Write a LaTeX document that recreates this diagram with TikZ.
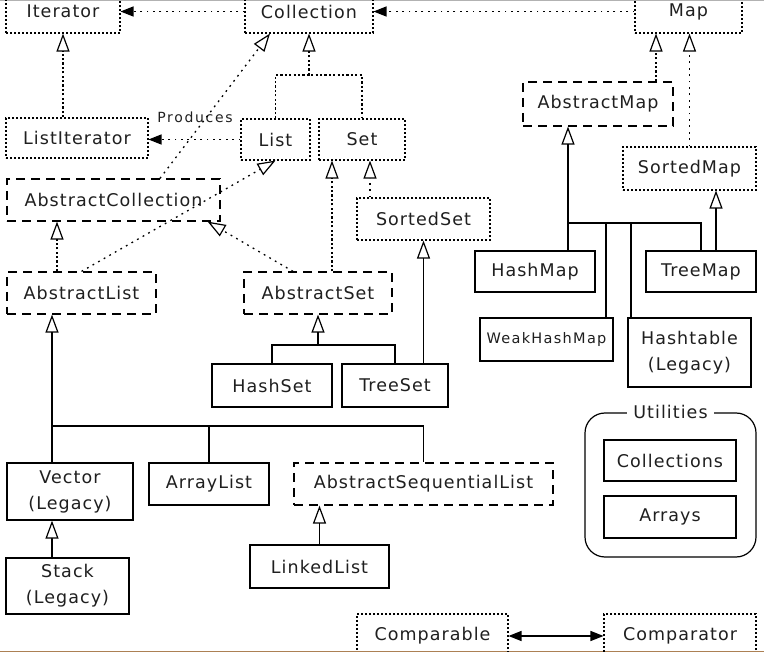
\documentclass[tikz,border=0pt]{standalone}
\usepackage{fontspec}
\setmainfont{DejaVu Sans}[LetterSpace=6]
\usetikzlibrary{arrows.meta}
\tikzset{
  lbl/.style={font=\fontsize{17.5}{26}\selectfont, text=black!88, align=center, inner sep=0pt},
  iface/.style={lbl, draw, line width=1.1pt, dash pattern=on 2pt off 2pt},
  abstr/.style={lbl, draw, line width=1.2pt, dash pattern=on 9pt off 6pt},
  conc/.style={lbl, draw, line width=1.3pt},
  dotc/.style={line width=1.3pt, dash pattern=on 1.8pt off 4.6pt},
  dashc/.style={line width=1.1pt, dash pattern=on 2.2pt off 2.2pt},
  solc/.style={line width=1.4pt},
  inh/.style={-{Triangle[length=18pt,width=13pt,fill=white,line width=1.2pt]}},
  uses/.style={-{Triangle[length=13pt,width=10pt]}},
  both/.style={{Triangle[length=13pt,width=10pt]}-{Triangle[length=13pt,width=10pt]}}
}
\begin{document}
\begin{tikzpicture}[x=1pt,y=-1pt]
\useasboundingbox (0,0) rectangle (764,652);
\clip (0,0) rectangle (764,652);
\fill[white] (0,0) rectangle (764,652);
\fill[gray!60] (0,0) rectangle (764,1.5);
\fill[brown!70!gray] (0,650.5) rectangle (764,652);

% interfaces
\node[iface, minimum width=114pt, minimum height=43pt] (Iterator) at (63,11.5) {Iterator};
\node[iface, minimum width=128pt, minimum height=43pt] (Collection) at (309,11.5) {Collection};
\node[iface, minimum width=107pt, minimum height=43pt] (Map) at (688.5,11.5) {Map};
\node[iface, minimum width=142pt, minimum height=40pt] (ListIterator) at (77,138) {ListIterator};
\node[iface, minimum width=69pt, minimum height=41pt] (List) at (275.5,139.5) {List};
\node[iface, minimum width=86pt, minimum height=41pt] (Set) at (362,139.5) {Set};
\node[iface, minimum width=133pt, minimum height=42pt] (SortedSet) at (423.5,219) {SortedSet};
\node[iface, minimum width=133pt, minimum height=43pt] (SortedMap) at (689.5,168.5) {SortedMap};
\node[iface, minimum width=151pt, minimum height=44pt] (Comparable) at (432.5,636) {Comparable};
\node[iface, minimum width=152pt, minimum height=44pt] (Comparator) at (680,636) {Comparator};

% abstract classes
\node[abstr, minimum width=213pt, minimum height=42pt] (AbstractCollection) at (113.5,200) {AbstractCollection};
\node[abstr, minimum width=149pt, minimum height=42pt] (AbstractList) at (81.5,293) {AbstractList};
\node[abstr, minimum width=148pt, minimum height=42pt] (AbstractSet) at (318,293) {AbstractSet};
\node[abstr, minimum width=259pt, minimum height=42pt] (ASL) at (423.5,484) {AbstractSequentialList};
\node[abstr, minimum width=150pt, minimum height=44pt] (AbstractMap) at (598,104) {AbstractMap};

% concrete classes
\node[conc, minimum width=120pt, minimum height=43pt] (HashSet) at (272,385.5) {HashSet};
\node[conc, minimum width=106pt, minimum height=43pt] (TreeSet) at (395,385.5) {TreeSet};
\node[conc, minimum width=126pt, minimum height=57pt] (Vector) at (70,491.5) {Vector\\(Legacy)};
\node[conc, minimum width=120pt, minimum height=42pt] (ArrayList) at (209,484) {ArrayList};
\node[conc, minimum width=123pt, minimum height=56pt] (Stack) at (67.5,586) {Stack\\(Legacy)};
\node[conc, minimum width=139pt, minimum height=43pt] (LinkedList) at (319.5,566.5) {LinkedList};
\node[conc, minimum width=120pt, minimum height=41pt] (HashMap) at (535,271.5) {HashMap};
\node[conc, minimum width=110pt, minimum height=41pt] (TreeMap) at (701,271.5) {TreeMap};
\node[conc, minimum width=133pt, minimum height=43pt, font=\fontsize{14.5}{20}\selectfont\addfontfeature{LetterSpace=9}] (WeakHashMap) at (546.5,339.5) {WeakHashMap};
\node[conc, minimum width=123pt, minimum height=69pt] (Hashtable) at (689.5,352.5) {Hashtable\\(Legacy)};

% utilities
\node[draw, line width=1.2pt, rounded corners=20pt, minimum width=171pt, minimum height=144pt] (Util) at (670.5,485) {};
\node[lbl, fill=white, inner xsep=6pt, inner ysep=2pt] (UtilTitle) at (Util.north) {Utilities};
\node[conc, minimum width=132pt, minimum height=41pt] (Collections) at (670,460.5) {Collections};
\node[conc, minimum width=132pt, minimum height=42pt] (Arrays) at (670,517) {Arrays};

% junction coordinates
\coordinate (cbr) at (309,75);
\coordinate (alj) at (52,426);
\coordinate (asj) at (318,345);
\coordinate (amj) at (568,223);
\coordinate (wj) at (606,223);
\coordinate (hj) at (631,223);

% top row
\draw[dotc, uses] (Collection.west) -- (Iterator.east);
\draw[dotc, uses] (Map.west) -- (Collection.east);
\draw[dashc, inh] (Iterator.south |- ListIterator.north) -- (Iterator.south);

% collection bracket
\draw[dashc] (List.north) |- (cbr) -| (Set.north);
\draw[dashc, inh] (cbr) -- (Collection.south);

% produces
\draw[dotc, uses] (List.west) -- (List.west -| ListIterator.east);
\node[lbl, font=\fontsize{14}{16}\selectfont\addfontfeature{LetterSpace=12}] (Produces) at (195,117) {Produces};

% diagonals
\draw[dotc, inh] ([xshift=46.5pt]AbstractCollection.north) -- ([xshift=-39pt]Collection.south);
\draw[dotc, inh] (AbstractList.north) -- (List.south);
\draw[dotc, inh] ([xshift=-25pt]AbstractSet.north) -- ([xshift=-13pt]AbstractCollection.south east);

% set side
\draw[dashc, inh] ([xshift=14pt]AbstractSet.north) -- ([xshift=-30pt]Set.south);
\draw[dotc, inh] ([xshift=8pt]Set.south |- SortedSet.north) -- ([xshift=8pt]Set.south);
\draw[dashc, inh] ([xshift=-24.5pt]AbstractList.north) -- ([xshift=-24.5pt]AbstractList.north |- AbstractCollection.south);

% list implementations
\draw[solc, inh] (Vector.north -| alj) -- (alj) -- (alj |- AbstractList.south);
\draw[solc] (alj) -| (ArrayList.north);
\draw[solc] (alj) -| (ASL.north);
\draw[solc, inh] (Stack.north -| alj) -- (Vector.south -| alj);
\draw[solc, inh] (LinkedList.north) -- (LinkedList.north |- ASL.south);

% set implementations
\draw[solc] (HashSet.north) |- (asj) -| (TreeSet.north);
\draw[solc, inh] (asj) -- (AbstractSet.south);
\draw[solc, inh] (SortedSet.south |- TreeSet.north) -- (SortedSet.south);

% maps
\draw[dashc, inh] ([xshift=58pt]AbstractMap.north) -- ([xshift=58pt]AbstractMap.north |- Map.south);
\draw[dotc, inh] (SortedMap.north) -- (SortedMap.north |- Map.south);
\draw[solc, inh] (HashMap.north -| amj) -- (amj) -- (amj |- AbstractMap.south);
\draw[solc] (amj) -| (TreeMap.north);
\draw[solc] (wj) -- (wj |- WeakHashMap.north);
\draw[solc] (hj) -- (hj |- Hashtable.north);
\draw[solc, inh] ([xshift=15pt]TreeMap.north) -- ([xshift=15pt]TreeMap.north |- SortedMap.south);

% comparable / comparator
\draw[solc, both] (Comparable.east) -- (Comparator.west);
\end{tikzpicture}
\end{document}
